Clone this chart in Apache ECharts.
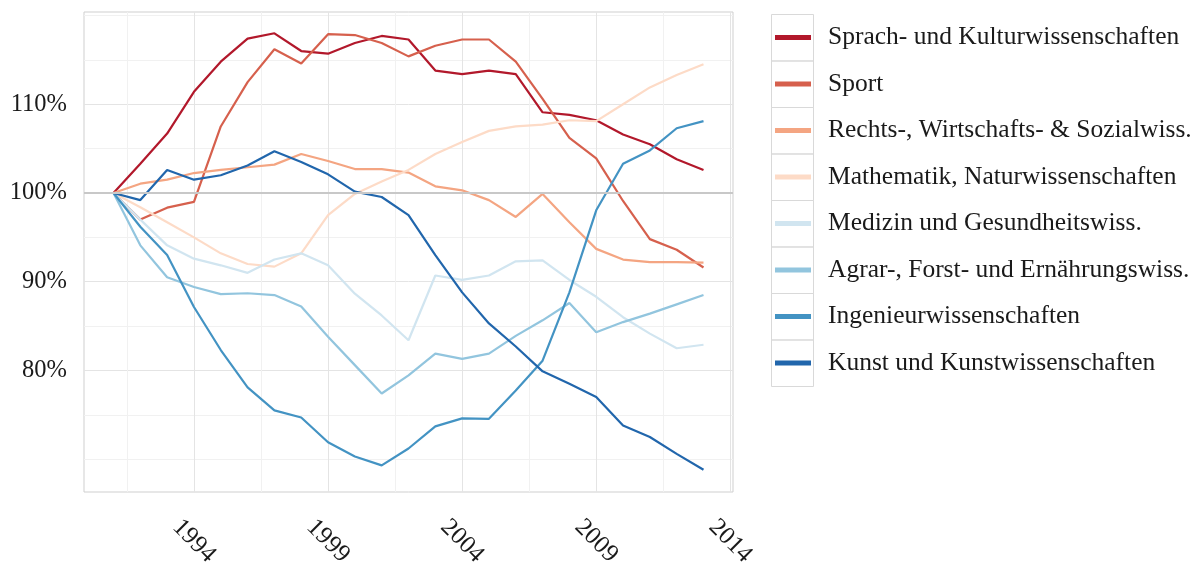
<!DOCTYPE html>
<html><head><meta charset="utf-8">
<script src="https://cdn.jsdelivr.net/npm/echarts@6/dist/echarts.min.js"></script>
<style>html,body{margin:0;padding:0;background:#fff}#c{width:1200px;height:570px}</style>
</head><body><div id="c"></div>
<script>
// ---- data ----
const years = [1991,1992,1993,1994,1995,1996,1997,1998,1999,2000,2001,2002,2003,2004,2005,2006,2007,2008,2009,2010,2011,2012,2013];
const sprach    = [100,103.3,106.7,111.4,114.8,117.4,118.0,116.0,115.7,116.9,117.7,117.3,113.8,113.4,113.8,113.4,109.1,108.8,108.2,106.6,105.5,103.8,102.6];
const sport     = [100,97.0,98.35,99.0,107.5,112.5,116.2,114.6,117.9,117.8,116.9,115.4,116.6,117.3,117.3,114.8,110.6,106.2,103.9,99.1,94.8,93.6,91.6];
const rechts    = [100,101.05,101.5,102.25,102.6,102.9,103.2,104.4,103.6,102.7,102.7,102.3,100.75,100.3,99.2,97.3,99.9,96.7,93.7,92.5,92.2,92.2,92.15];
const mathe     = [100,98.4,96.7,95.0,93.2,92.0,91.7,93.2,97.5,99.9,101.3,102.6,104.4,105.75,107.0,107.5,107.7,108.2,108.1,110.0,111.9,113.3,114.5];
const medizin   = [100,97.0,94.1,92.6,91.85,91.0,92.5,93.2,91.85,88.65,86.2,83.4,90.7,90.2,90.7,92.3,92.4,90.2,88.3,86.0,84.15,82.5,82.9];
const agrar     = [100,94.1,90.5,89.4,88.6,88.7,88.5,87.2,83.8,80.6,77.4,79.45,81.9,81.3,81.9,83.9,85.65,87.6,84.3,85.45,86.4,87.45,88.5];
const ingenieur = [100,96.2,93.0,87.15,82.3,78.1,75.5,74.7,71.9,70.3,69.3,71.2,73.7,74.6,74.55,77.75,81.1,88.8,98.05,103.3,104.8,107.3,108.1];
const kunst     = [100,99.2,102.6,101.5,102.0,103.1,104.7,103.5,102.1,100.15,99.55,97.5,93.0,88.8,85.3,82.7,79.9,78.5,77.0,73.8,72.5,70.6,68.8];

const seriesNames = ['Sprach- und Kulturwissenschaften','Sport','Rechts-, Wirtschafts- & Sozialwiss.','Mathematik, Naturwissenschaften','Medizin und Gesundheitswiss.','Agrar-, Forst- und Ernährungswiss.','Ingenieurwissenschaften','Kunst und Kunstwissenschaften'];
const seriesValues = [sprach, sport, rechts, mathe, medizin, agrar, ingenieur, kunst];
const seriesColors = ['#b2182b','#d6604d','#f4a582','#fddbc7','#d1e5f0','#92c5de','#4393c3','#2166ac'];

const xMajorTicks = [1994,1999,2004,2009,2014];
const xMinorTicks = [1991.5,1996.5,2001.5,2006.5,2011.5];
const yMajorTicks = [80,90,100,110];
const yMinorTicks = [70,75,85,95,105,115,120];
const refValue = 100;

// ---- chart ----
const FONT = '"Liberation Serif", "DejaVu Serif", serif';
const XMIN = 1989.9, XMAX = 2014.1, YMIN = 66.3, YMAX = 120.4;

const chart = echarts.init(document.getElementById('c'), null, {renderer: 'canvas'});

const series = seriesNames.map((name, i) => ({
  name: name,
  type: 'line',
  data: years.map((y, j) => [y, seriesValues[i][j]]),
  showSymbol: false,
  symbol: 'none',
  lineStyle: {width: 2.2, color: seriesColors[i]},
  itemStyle: {color: seriesColors[i]},
  emphasis: {disabled: true},
  z: 3
}));
series.unshift({
  name: '__ref',
  type: 'line',
  data: [],
  z: 1,
  markLine: {
    silent: true,
    symbol: ['none', 'none'],
    label: {show: false},
    lineStyle: {color: '#c8c8c8', width: 2, type: 'solid'},
    data: [{yAxis: refValue}],
    animation: false
  }
});

const boxes = seriesNames.map((n, i) => ({
  type: 'rect',
  shape: {x: 771.5, y: 14.5 + i * 46.5, width: 42, height: 46.5},
  style: {fill: 'none', stroke: '#d9d9d9', lineWidth: 1},
  z: 0
}));

chart.setOption({
  animation: false,
  backgroundColor: '#ffffff',
  grid: {left: 84, right: 467, top: 12, bottom: 78, show: true, borderColor: '#cfcfcf', borderWidth: 1, outerBoundsMode: 'none', containLabel: false},
  xAxis: [
    {type: 'value', min: XMIN, max: XMAX, position: 'bottom',
     axisLine: {show: false}, axisTick: {show: false, customValues: xMajorTicks},
     axisLabel: {customValues: xMajorTicks, rotate: -45, align: 'center', verticalAlign: 'middle', margin: 49,
                 fontFamily: FONT, fontSize: 25, color: '#1a1a1a', formatter: v => String(v)},
     splitLine: {show: true, lineStyle: {color: '#e4e4e4', width: 1}}},
    {type: 'value', min: XMIN, max: XMAX, position: 'top',
     axisLine: {show: false}, axisTick: {show: false, customValues: xMinorTicks},
     axisLabel: {show: false},
     splitLine: {show: true, lineStyle: {color: '#f1f1f1', width: 1}}}
  ],
  yAxis: [
    {type: 'value', min: YMIN, max: YMAX, position: 'left',
     axisLine: {show: false}, axisTick: {show: false, customValues: yMajorTicks},
     axisLabel: {customValues: yMajorTicks, margin: 17, fontFamily: FONT, fontSize: 24.5, color: '#1a1a1a', formatter: v => v + '%'},
     splitLine: {show: true, lineStyle: {color: '#e4e4e4', width: 1}}},
    {type: 'value', min: YMIN, max: YMAX, position: 'right',
     axisLine: {show: false}, axisTick: {show: false, customValues: yMinorTicks},
     axisLabel: {show: false},
     splitLine: {show: true, lineStyle: {color: '#f1f1f1', width: 1}}}
  ],
  legend: {
    data: seriesNames,
    orient: 'vertical',
    left: 775, top: 23.5,
    padding: 0,
    icon: 'rect',
    itemWidth: 36, itemHeight: 5,
    itemGap: 18.5,
    selectedMode: false,
    textStyle: {fontFamily: FONT, fontSize: 25.5, lineHeight: 28, color: '#1a1a1a', padding: [0, 0, 0, 12]}
  },
  graphic: boxes,
  series: series
});
</script>
</body></html>
